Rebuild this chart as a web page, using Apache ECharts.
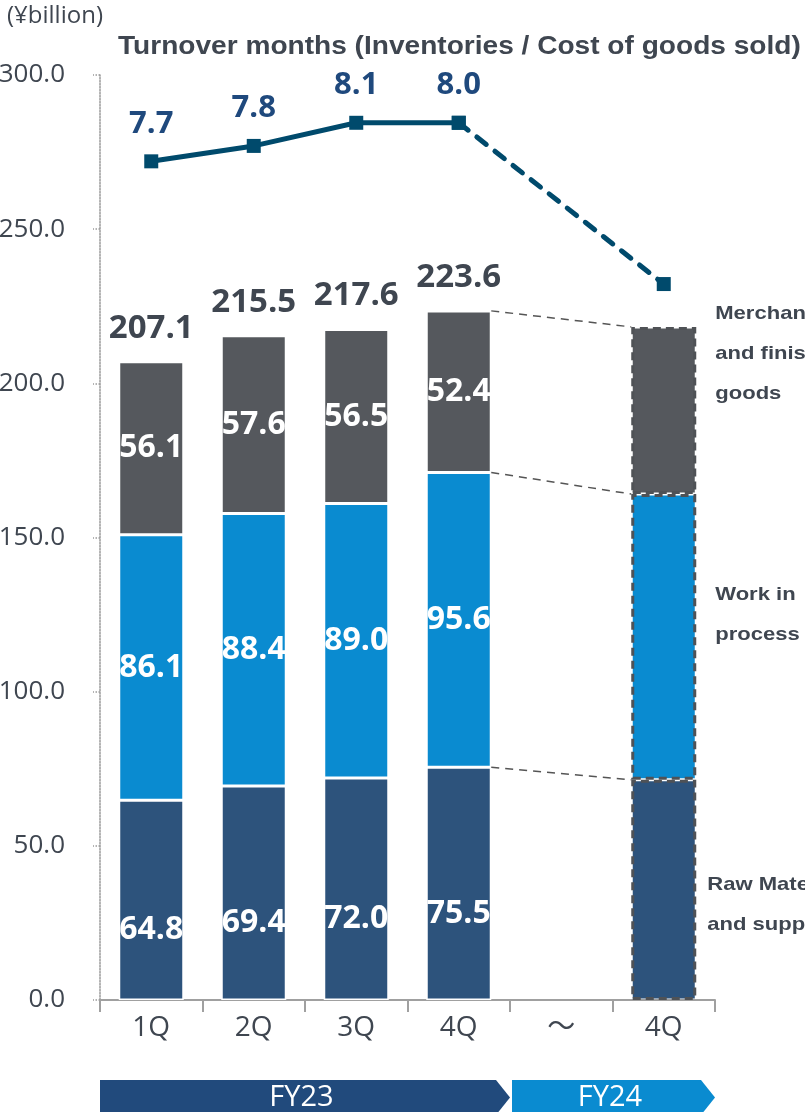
<!DOCTYPE html>
<html><head><meta charset="utf-8">
<script src="https://cdn.jsdelivr.net/npm/echarts@6/dist/echarts.min.js"></script>
<style>html,body{margin:0;padding:0;background:#fff}#c{width:805px;height:1112px}</style>
</head><body><div id="c"></div>
<script>
// ---------------- data ----------------
const categories = ['1Q', '2Q', '3Q', '4Q', '～', '4Q'];
const rawMaterials = [64.8, 69.4, 72.0, 75.5, null, 71.4];
const workInProcess = [86.1, 88.4, 89.0, 95.6, null, 92.7];
const merchandise = [56.1, 57.6, 56.5, 52.4, null, 54.2];
const totals = [207.1, 215.5, 217.6, 223.6, null, null];
const turnoverLabels = ['7.7', '7.8', '8.1', '8.0', null, null];
// marker heights of the turnover line, read on the ¥billion scale
const turnoverLevel = [272, 277, 284.5, 284.5, null, 232.2];
const segmentNotes = [['Merchandise', 'and finished', 'goods'], ['Work in', 'process'], ['Raw Materials', 'and supplies']];
const periods = ['FY23', 'FY24'];
const periodSpans = [[0, 4], [4, 6]]; // category index ranges
const yMin = 0, yMax = 300, yStep = 50;
const unitLabel = '(¥billion)';
const lineTitle = 'Turnover months (Inventories / Cost of goods sold)';

// ---------------- style ----------------
const C_RAW = '#2d537c', C_WIP = '#0a8bd0', C_MER = '#55585d';
const C_TEXT = '#3f4650', C_LINE = '#004a6c', C_LBL = '#1f497d';
const FY_COL = ['#214a7c', '#0a8bd0'];
const BAR_W = 65;
const FUT = 5; // index of forecast bar

const chart = echarts.init(document.getElementById('c'), null, {renderer: 'canvas'});

function barData(arr) {
  return arr.map((v, i) => {
    if (v == null) return '-';
    if (i === FUT) {
      return {
        value: v,
        itemStyle: {borderColor: '#4f5256', borderWidth: 3, borderType: [8, 5]},
        label: {show: false}
      };
    }
    return v;
  });
}

function barSeries(name, arr, color, labelOffset) {
  return {
    name, type: 'bar', stack: 'inv', barWidth: BAR_W,
    data: barData(arr),
    itemStyle: {color, borderColor: '#fff', borderWidth: 1.5},
    label: {
      show: true, position: 'inside', color: '#fff', offset: labelOffset,
      fontFamily: 'Open Sans', fontWeight: 'bold', fontSize: 32,
      formatter: p => Number(p.value).toFixed(1)
    },
    z: 2
  };
}

const solidLine = turnoverLevel.map((v, i) => (i <= 3 && v != null) ? v : '-');
const dashLine = turnoverLevel.map((v, i) => i >= 3 ? (v == null ? null : v) : '-');

const option = {
  animation: false,
  backgroundColor: '#fff',
  textStyle: {fontFamily: 'Open Sans'},
  grid: {left: 100, right: 90, top: 75, bottom: 112, containLabel: false, outerBoundsMode: 'none'},
  xAxis: {
    type: 'category', data: categories, boundaryGap: true,
    axisLine: {show: true, lineStyle: {color: '#a0a0a0', width: 2}},
    axisTick: {show: true, length: 12, lineStyle: {color: '#a0a0a0', width: 2}},
    axisLabel: {color: C_TEXT, fontFamily: '"Open Sans", "Noto Sans CJK JP"', fontSize: 28, margin: 14}
  },
  yAxis: {
    type: 'value', min: yMin, max: yMax, interval: yStep,
    axisLine: {show: true, lineStyle: {color: '#9a9a9a', type: 'dotted', width: 1.5}},
    axisTick: {show: true, length: 7, lineStyle: {color: '#9a9a9a', type: 'dotted', width: 1.5}},
    splitLine: {show: false},
    axisLabel: {color: C_TEXT, fontFamily: 'Open Sans', fontSize: 26, margin: 35, formatter: v => v.toFixed(1)}
  },
  series: [
    barSeries('Raw Materials and supplies', rawMaterials, C_RAW, [0, 30]),
    barSeries('Work in process', workInProcess, C_WIP, [0, 0]),
    barSeries('Merchandise and finished goods', merchandise, C_MER, [0, 0]),
    {
      name: 'total', type: 'scatter', data: totals.map(v => v == null ? '-' : v),
      symbolSize: 1, itemStyle: {color: 'rgba(0,0,0,0)', opacity: 1},
      label: {show: true, position: 'top', distance: 16, color: C_TEXT, opacity: 1,
        fontFamily: 'Open Sans', fontWeight: 'bold', fontSize: 33,
        formatter: p => p.value.toFixed(1)},
      z: 5
    },
    {
      name: 'turnover', type: 'line', data: solidLine,
      symbol: 'rect', symbolSize: 14, itemStyle: {color: C_LINE},
      lineStyle: {color: C_LINE, width: 5},
      label: {show: true, position: 'top', distance: 15, color: C_LBL,
        fontFamily: 'Open Sans', fontWeight: 'bold', fontSize: 31,
        formatter: p => turnoverLabels[p.dataIndex]},
      z: 6
    },
    {
      name: 'turnover forecast', type: 'line', data: dashLine, connectNulls: true,
      symbol: 'rect', symbolSize: 14, itemStyle: {color: C_LINE},
      lineStyle: {color: C_LINE, width: 5, type: [12, 11], cap: 'round'},
      z: 6
    }
  ]
};
chart.setOption(option);

function overlay() {
  const px = i => chart.convertToPixel({xAxisIndex: 0}, i);
  const py = v => chart.convertToPixel({yAxisIndex: 0}, v);
  const catW = px(1) - px(0);
  const elems = [];
  // titles
  elems.push({type: 'text', x: 7, y: 4, z: 12,
    style: {text: unitLabel, fill: C_TEXT, font: '24px "Open Sans"'}});
  elems.push({type: 'text', x: 118, y: 47, z: 12, scaleX: 1.08,
    style: {text: lineTitle, fill: C_TEXT, font: 'bold 26px "Liberation Sans"', textVerticalAlign: 'middle'}});
  // dashed connectors between last actual bar and forecast bar
  const cum = i => [0, rawMaterials[i], rawMaterials[i] + workInProcess[i], rawMaterials[i] + workInProcess[i] + merchandise[i]];
  const a = cum(3), b = cum(FUT);
  const xa = px(3) + BAR_W / 2, xb = px(FUT) - BAR_W / 2;
  for (let k = 1; k < 4; k++) {
    elems.push({type: 'line', z: 10, shape: {x1: xa, y1: py(a[k]), x2: xb, y2: py(b[k])},
      style: {stroke: '#555', lineWidth: 1.5, lineDash: [8, 6]}});
  }
  // segment notes to the right of the forecast bar
  const noteShift = [[19, -97], [19, -42], [11, -5]]; // merch, wip, raw (pixel nudges)
  const segCenter = [(b[2] + b[3]) / 2, (b[1] + b[2]) / 2, (b[0] + b[1]) / 2];
  const xr = px(FUT) + BAR_W / 2;
  segmentNotes.forEach((lines, j) => {
    lines.forEach((t, l) => {
      elems.push({type: 'text', z: 11, x: xr + noteShift[j][0], y: py(segCenter[j]) + noteShift[j][1] + l * 40,
        scaleX: 1.16,
        style: {text: t, fill: C_TEXT, font: 'bold 19px "Liberation Sans"', textVerticalAlign: 'middle'}});
    });
  });
  // period banners
  const yTop = 1080, yBot = 1115, yMid = (yTop + yBot) / 2, tip = 14;
  periods.forEach((name, j) => {
    const x0 = px(periodSpans[j][0]) - catW / 2 + (j > 0 ? 2 : 0);
    const x1 = px(periodSpans[j][1] - 1) + catW / 2;
    elems.push({type: 'polygon', z: 10,
      shape: {points: [[x0, yTop], [x1 - tip, yTop], [x1, yMid], [x1 - tip, yBot], [x0, yBot]]},
      style: {fill: FY_COL[j]}});
    elems.push({type: 'text', z: 11, x: (x0 + x1 - tip / 2) / 2, y: yMid,
      style: {text: name, fill: '#fff', font: '29px "Open Sans"', textAlign: 'center', textVerticalAlign: 'middle'}});
  });
  chart.setOption({graphic: elems});
}
overlay();
</script></body></html>
